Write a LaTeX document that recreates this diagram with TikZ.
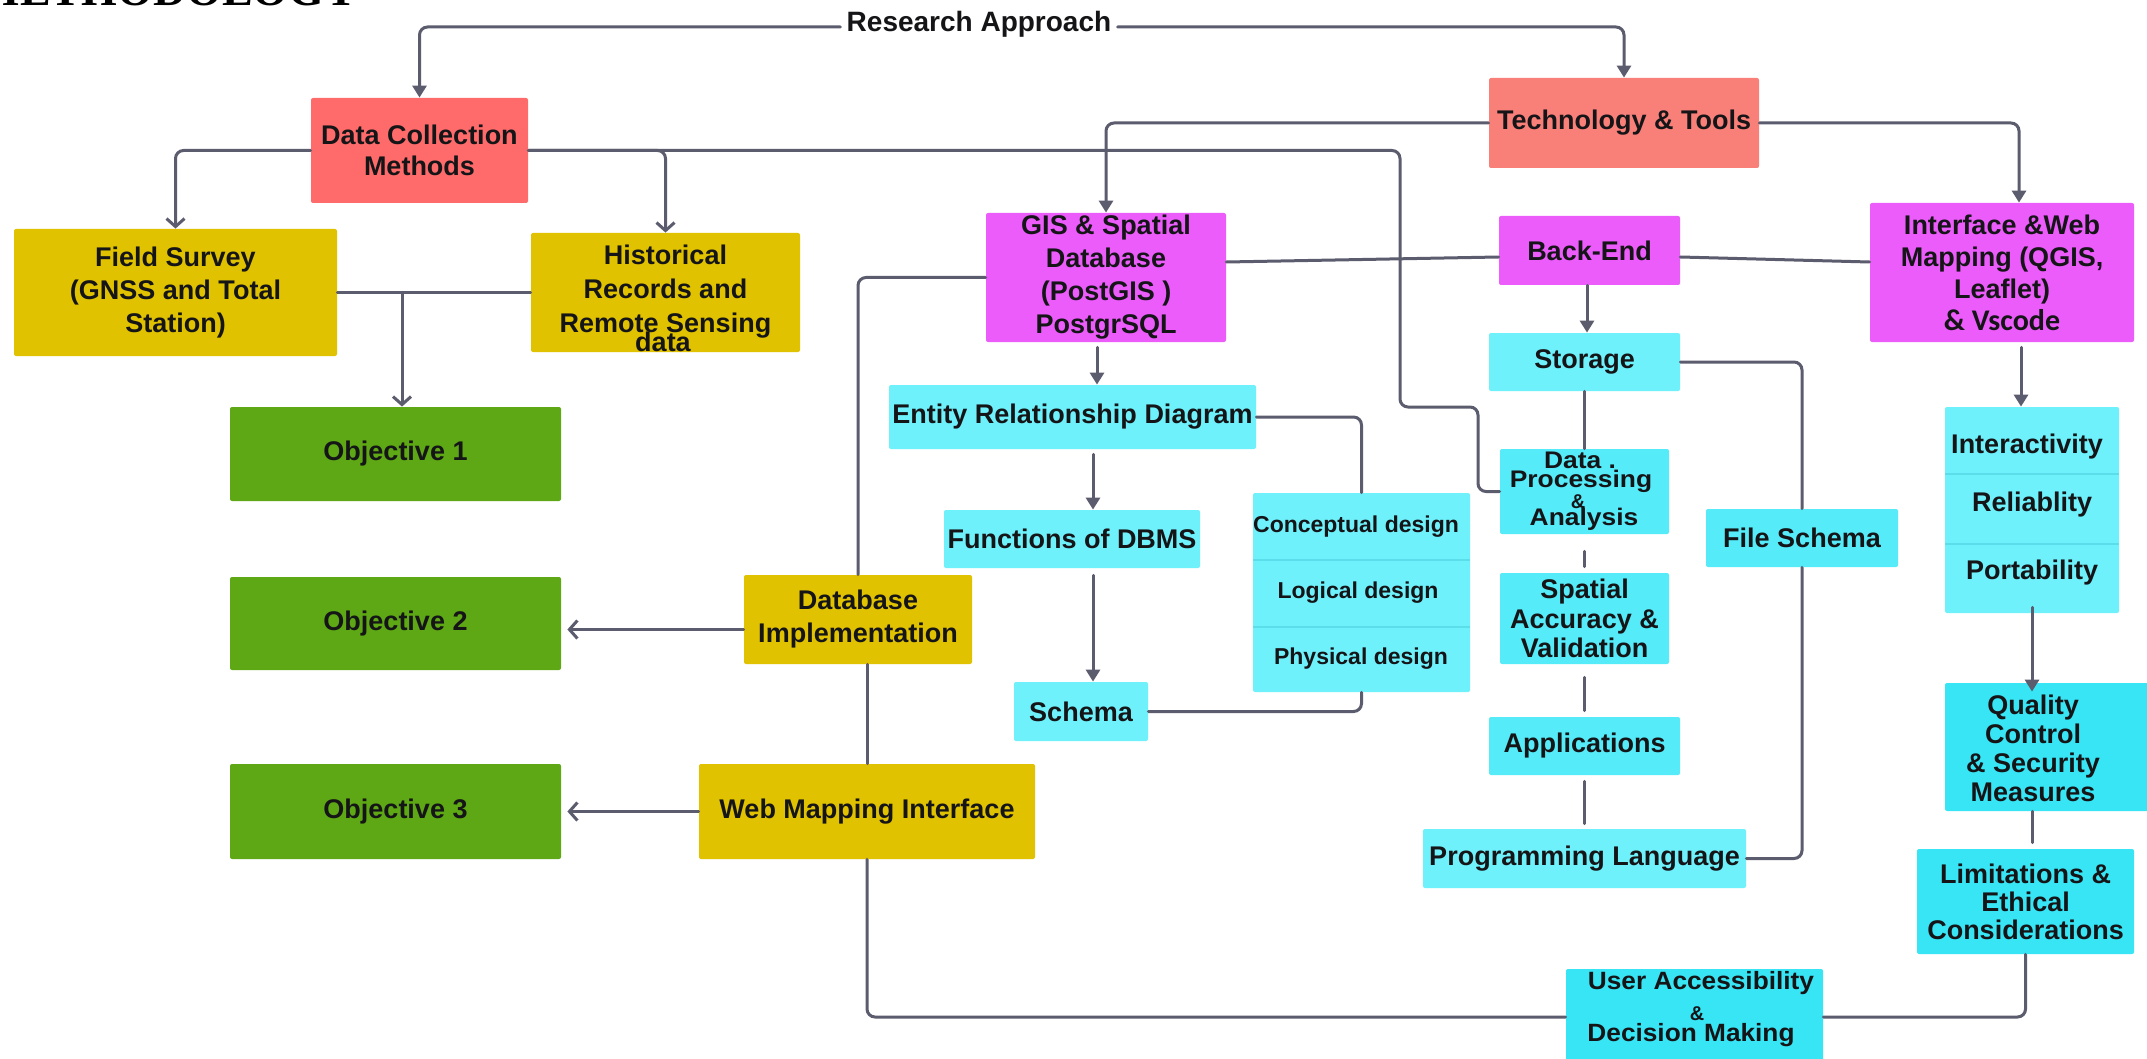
\documentclass[tikz,border=0pt]{standalone}
\usepackage{fontspec}
\usepackage{graphicx}
\setmainfont{Liberation Sans}
\newfontfamily\serifb{Liberation Serif}
\newfontfamily\carl{Carlito}
\usetikzlibrary{arrows.meta,calc}
\definecolor{dcred}{HTML}{FF6B6B}
\definecolor{tts}{HTML}{F98079}
\definecolor{yel}{HTML}{E0C200}
\definecolor{grn}{HTML}{5DA814}
\definecolor{mag}{HTML}{EC5CFB}
\definecolor{cyL}{HTML}{6EF1FB}
\definecolor{cyM}{HTML}{55EBF8}
\definecolor{cyD}{HTML}{38E5F5}
\definecolor{lineC}{HTML}{5B5C6E}
\definecolor{txt}{HTML}{151518}
\definecolor{divc}{HTML}{5CDDEA}
\begin{document}
\begin{tikzpicture}[x=0.5pt,y=-0.5pt,
  box/.style={draw=none, rounded corners=1pt, inner sep=0pt, align=center, text=txt,
    font=\fontsize{13.5}{16.5}\selectfont\bfseries},
  sz/.style 2 args={minimum width=#1*0.5pt, minimum height=#2*0.5pt},
  lbl/.style={inner sep=0pt, align=center, text=txt, font=\fontsize{13.5}{16.5}\selectfont\bfseries},
  conn/.style={draw=lineC, line width=1.5pt, rounded corners=4pt, line cap=round},
  fa/.style={-{Triangle[length=6pt,width=7pt]}},
  oa/.style={-{Straight Barb[length=4pt,width=9pt]}},
  divl/.style={draw=divc, line width=0.6pt}
]
\useasboundingbox (0,0) rectangle (2147,1059);
\clip (0,0) rectangle (2147,1059);
\fill[white] (0,0) rectangle (2147,1059);

% title
\node[anchor=base east, inner sep=0pt, font=\serifb\bfseries\fontsize{23}{23}\selectfont] (title) at (358,6) {METHODOLOGY};

% top
\node[lbl, anchor=base, inner sep=3pt, font=\fontsize{14}{16}\selectfont\bfseries] (ra) at (979,32) {Research Approach};
\node[box, fill=dcred, sz={217}{105}, font=\fontsize{13.5}{15.5}\selectfont\bfseries] (dc) at (419.5,150.5) {Data Collection\\Methods};
\node[box, fill=tts, sz={270}{90}] (tt) at (1624,123) {Technology \& Tools};

% left column
\node[box, fill=yel, sz={323}{127}] (fs) at (175.5,292.5) {Field Survey\\(GNSS and Total\\Station)};
\node[box, fill=yel, sz={269}{119}] (hr) at (665.5,292.5) {};
\node[lbl, font=\fontsize{13.5}{17}\selectfont\bfseries] (hrt) at (665.5,292) {Historical\\Records and\\Remote Sensing};
\node[lbl] (hrd) at (663,342) {data};
\node[box, fill=grn, sz={331}{94}] (o1) at (395.5,454) {Objective 1};
\node[box, fill=grn, sz={331}{93}] (o2) at (395.5,623.5) {Objective 2};
\node[box, fill=grn, sz={331}{95}] (o3) at (395.5,811.5) {Objective 3};
\node[box, fill=yel, sz={228}{89}] (di) at (858,619.5) {Database\\Implementation};
\node[box, fill=yel, sz={336}{95}] (wmi) at (867,811.5) {Web Mapping Interface};

% GIS column
\node[box, fill=mag, sz={240}{129}] (gis) at (1106,277.5) {GIS \& Spatial\\Database\\(PostGIS )\\PostgrSQL};
\node[box, fill=cyL, sz={367}{64}] (erd) at (1072.5,417) {Entity Relationship Diagram};
\node[box, fill=cyL, sz={256}{58}] (fd) at (1072,539) {Functions of DBMS};
\node[box, fill=cyL, sz={134}{59}] (sch) at (1081,711.5) {Schema};
\node[box, fill=cyL, sz={217}{199}] (cld) at (1361.5,592.5) {};
\draw[divl] (1253,560) -- (1470,560);
\draw[divl] (1253,627) -- (1470,627);
\node[lbl, font=\fontsize{11.5}{13}\selectfont\bfseries] (cd1) at (1356,527) {Conceptual design};
\node[lbl, font=\fontsize{11.5}{13}\selectfont\bfseries] (cd2) at (1358,593) {Logical design};
\node[lbl, font=\fontsize{11.5}{13}\selectfont\bfseries] (cd3) at (1361,659) {Physical design};

% back-end column
\node[box, fill=mag, sz={181}{69}] (be) at (1589.5,250.5) {Back-End};
\node[box, fill=cyL, sz={191}{58}] (st) at (1584.5,362) {Storage};
\node[box, fill=cyM, sz={169}{85}] (dp) at (1584.5,491.5) {};
\node[lbl, anchor=base, font=\fontsize{12}{13}\selectfont\bfseries] (dpa) at (1580,468) {\scalebox{1.1}[1]{Data .}};
\node[lbl, anchor=base, font=\fontsize{12}{13}\selectfont\bfseries] (dpb) at (1581,487) {\scalebox{1.1}[1]{Processing}};
\node[lbl, anchor=base, font=\fontsize{10}{11}\selectfont\bfseries] (dpc) at (1578,508) {\&};
\node[lbl, anchor=base, font=\fontsize{12}{13}\selectfont\bfseries] (dpd) at (1584,525) {\scalebox{1.1}[1]{Analysis}};
\node[box, fill=cyM, sz={169}{91}, font=\fontsize{13.5}{14.75}\selectfont\bfseries] (sa) at (1584.5,618.5) {Spatial\\Accuracy \&\\Validation};
\node[box, fill=cyM, sz={191}{58}] (ap) at (1584.5,746) {Applications};
\node[box, fill=cyL, sz={323}{59}] (pl) at (1584.5,858.5) {Programming Language};
\node[box, fill=cyM, sz={192}{58}] (fsc) at (1802,538) {File Schema};

% interface column
\node[box, fill=mag, sz={264}{139}, font=\fontsize{13.5}{16}\selectfont\bfseries] (ifc) at (2002,272.5) {Interface \&Web\\Mapping (QGIS,\\Leaflet)\\{\carl\bfseries\fontsize{15}{16}\selectfont \& Vscode}};
\node[box, fill=cyL, sz={174}{206}] (irp) at (2032,510) {};
\draw[divl] (1945,474) -- (2119,474);
\draw[divl] (1945,544) -- (2119,544);
\node[lbl] (ir1) at (2027,447) {Interactivity};
\node[lbl] (ir2) at (2032,505) {Reliablity};
\node[lbl] (ir3) at (2032,573) {Portability};
\node[box, fill=cyD, sz={205}{128}] (qc) at (2047.5,747) {};
\node[lbl, font=\fontsize{13.5}{14.5}\selectfont\bfseries] (qct) at (2033,748) {Quality\\Control\\\& Security\\Measures};
\node[box, fill=cyD, sz={217}{105}, font=\fontsize{13.5}{14}\selectfont\bfseries] (lim) at (2025.5,901.5) {Limitations \&\\Ethical\\Considerations};
\node[box, fill=cyD, sz={257}{96}] (ua) at (1694.5,1017) {};
\node[lbl, anchor=base, font=\fontsize{12.5}{14}\selectfont\bfseries] (ua1) at (1701,989) {\scalebox{1.05}[1]{User Accessibility}};
\node[lbl, anchor=base, font=\fontsize{10}{11}\selectfont\bfseries] (ua2) at (1697,1020) {\&};
\node[lbl, anchor=base, font=\fontsize{12.5}{14}\selectfont\bfseries] (ua3) at (1691,1041) {\scalebox{1.05}[1]{Decision Making}};

% connectors
\draw[conn,fa] ([yshift=2.5pt]ra.base west) -| (dc.north);
\draw[conn,fa] ([yshift=2.5pt]ra.base east) -| (tt.north);
\draw[conn,oa] (dc.west) -| (fs.north);
\draw[conn,oa] (dc.east) -| (hr.north);
\draw[conn] (dc.east) -- (1400,150.5) -- (1400,407) -- (1478,407) -- (1478,491.5) -- (dp.west);
\draw[conn] (fs.east) -- (hr.west);
\coordinate (j1) at (402,292.5);
\draw[conn,oa] (j1) -- (j1 |- o1.north);
\draw[conn,fa] (tt.west) -| (gis.north);
\draw[conn,fa] (tt.east) -| ([xshift=8.5pt]ifc.north);
\draw[conn] ([yshift=7.75pt]gis.east) -- ([yshift=-3.25pt]be.west);
\draw[conn] ([yshift=-3.25pt]be.east) -- ([yshift=5.25pt]ifc.west);
\draw[conn,fa] ([xshift=-1.25pt]be.south) -- ([xshift=-1.25pt]be.south |- st.north);
\draw[conn] (st.south) -- (dp.north);
\draw[conn] (st.east) -| (fsc.north);
\draw[conn, shorten <=8.5pt, shorten >=3pt] (dp.south) -- (sa.north);
\draw[conn, shorten <=6.5pt, shorten >=3pt] (sa.south) -- (ap.north);
\draw[conn, shorten <=3pt, shorten >=2.5pt] (ap.south) -- (pl.north);
\draw[conn] (pl.east) -| (fsc.south);
\draw[conn,fa, shorten <=2.5pt] ([xshift=-4.5pt]gis.south) -- ([xshift=-4.5pt]gis.south |- erd.north);
\draw[conn,fa, shorten <=2.5pt] ([xshift=10.25pt]erd.south) -- ([xshift=10.25pt]erd.south |- fd.north);
\draw[conn,fa, shorten <=3.5pt] ([xshift=10.5pt]fd.south) -- ([xshift=10.5pt]fd.south |- sch.north);
\draw[conn] (erd.east) -| (cld.north);
\draw[conn] (sch.east) -| (cld.south);
\draw[conn] (gis.west) -| (di.north);
\draw[conn,oa, shorten >=3pt] ([yshift=-5pt]di.west) -- ([yshift=-5pt]di.west -| o2.east);
\draw[conn] (wmi.north |- di.south) -- (wmi.north);
\draw[conn,oa, shorten >=3pt] (wmi.west) -- (o3.east);
\draw[conn] (wmi.south) |- (ua.west);
\draw[conn,fa, shorten <=2.5pt] ([xshift=9.5pt]ifc.south) -- ([xshift=9.5pt]ifc.south |- irp.north);
\draw[conn,fa] ([yshift=3pt]irp.south) -- ([yshift=-4.5pt]irp.south |- qc.north);
\draw[conn, shorten >=3pt] (irp.south |- qc.south) -- (irp.south |- lim.north);
\draw[conn] (lim.south) |- (ua.east);
\end{tikzpicture}
\end{document}
